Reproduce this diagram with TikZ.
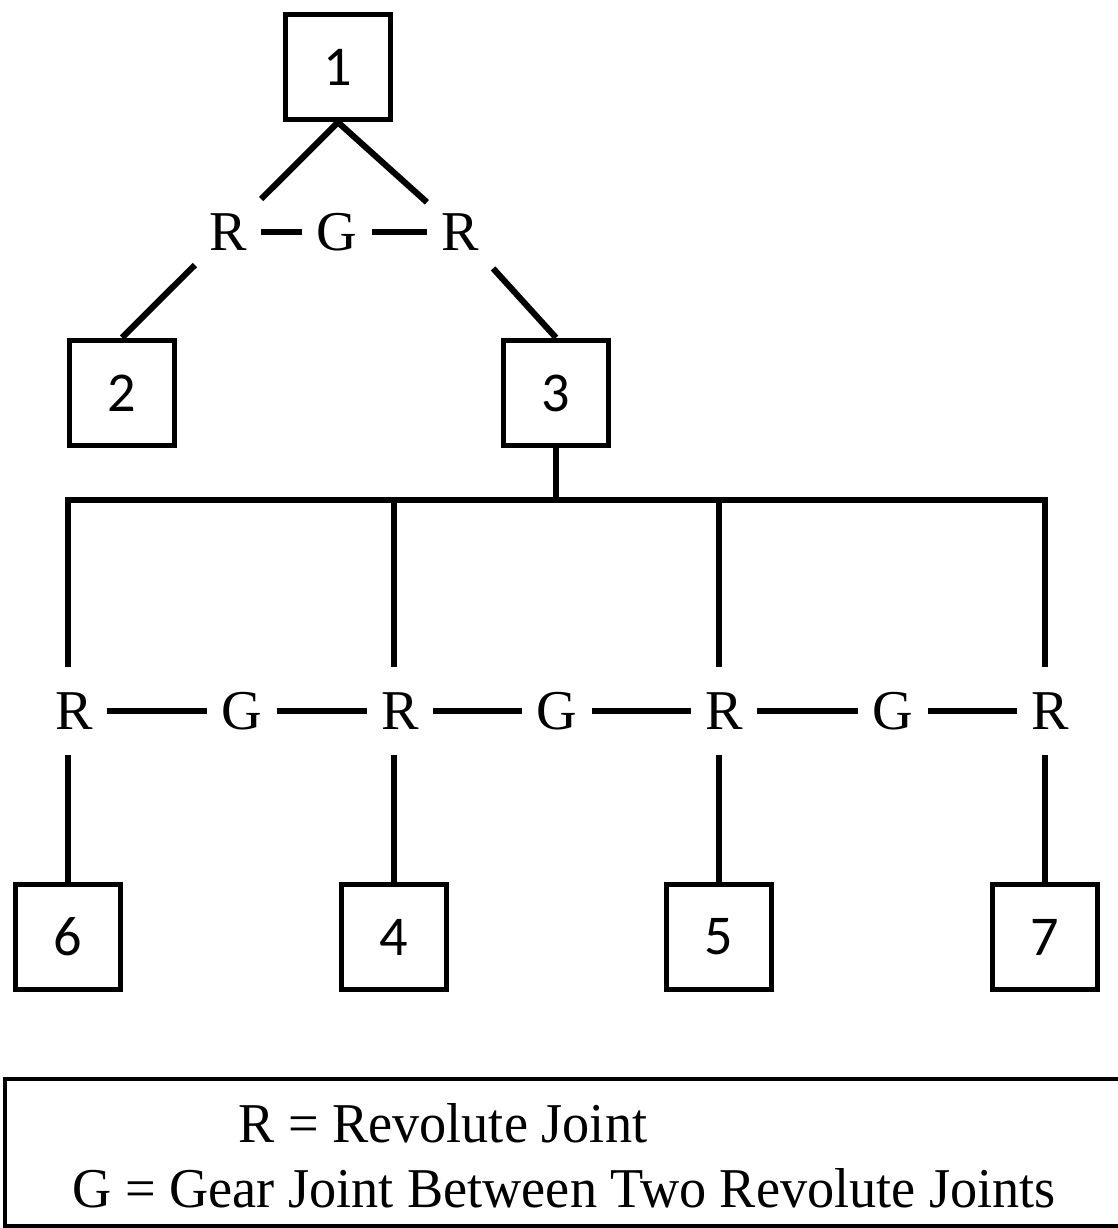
\documentclass[tikz,border=0pt]{standalone}
\usepackage{fontspec}
\setmainfont{Liberation Serif}
\newfontfamily\digitfont{Carlito}
\usetikzlibrary{calc}

\begin{document}
\begin{tikzpicture}
        [x=0.02cm, y=-0.02cm,
         linkbox/.style={draw, line width=3.2pt, minimum size=2.1cm, inner sep=0pt,
           font=\digitfont\fontsize{32}{38}\selectfont},
         joint/.style={inner xsep=0.28cm, inner ysep=0.5cm, font=\fontsize{32}{38}\selectfont},
         bar/.style={line width=3.5pt},
         keytext/.style={anchor=base west, inner sep=0pt, xscale=0.965, font=\fontsize{32}{38}\selectfont}]
        %\draw[help lines] (0,0) grid[step=100] (1117,1228);
        \useasboundingbox (0,0) rectangle (1117,1228);
        \node[linkbox] (b1) at (338,67) {1};
        \node[linkbox] (b2) at (122,393) {2};
        \node[linkbox] (b3) at (556,393) {3};
        \node[linkbox] (b6) at (68,937) {6};
        \node[linkbox] (b4) at (394,937) {4};
        \node[linkbox] (b5) at (719,937) {5};
        \node[linkbox] (b7) at (1045,937) {7};
        \node[joint] (r1) at (228,232) {R};
        \node[joint] (g1) at (337,232) {G};
        \node[joint] (r2) at (460,232) {R};
        \node[joint] (r3) at (74,711) {R};
        \node[joint] (g2) at (242,711) {G};
        \node[joint] (r4) at (400,711) {R};
        \node[joint] (g3) at (557,711) {G};
        \node[joint] (r5) at (724,711) {R};
        \node[joint] (g4) at (893,711) {G};
        \node[joint] (r6) at (1050,711) {R};
        \draw[bar] (b1.south) -- (r1);
        \draw[bar] (b1.south) -- (r2);
        \draw[bar] (r1) -- (b2.north);
        \draw[bar] (r2) -- (b3.north);
        \foreach \a/\b in {r1/g1, g1/r2, r3/g2, g2/r4, r4/g3, g3/r5, r5/g4, g4/r6}
          \draw[bar] (\a) -- (\b);
        \draw[bar] (b3.south) -- ++(0,52) coordinate (hub);
        \draw[bar] (r3.north -| b6) -- (b6 |- hub) -- (b7 |- hub) -- (r6.north -| b7);
        \draw[bar] (b4 |- hub) -- (r4.north -| b4);
        \draw[bar] (b5 |- hub) -- (r5.north -| b5);
        \foreach \r/\b in {r3/b6, r4/b4, r5/b5, r6/b7}
          \draw[bar] (\r.south -| \b) -- (\b.north);
        \draw[line width=2pt] (5,1079) rectangle (1130,1226);
        \node[keytext] (key1) at (238,1142) {R = Revolute Joint};
        \node[keytext] (key2) at (72,1207) {G = Gear Joint Between Two Revolute Joints};
      \end{tikzpicture}
\end{document}
